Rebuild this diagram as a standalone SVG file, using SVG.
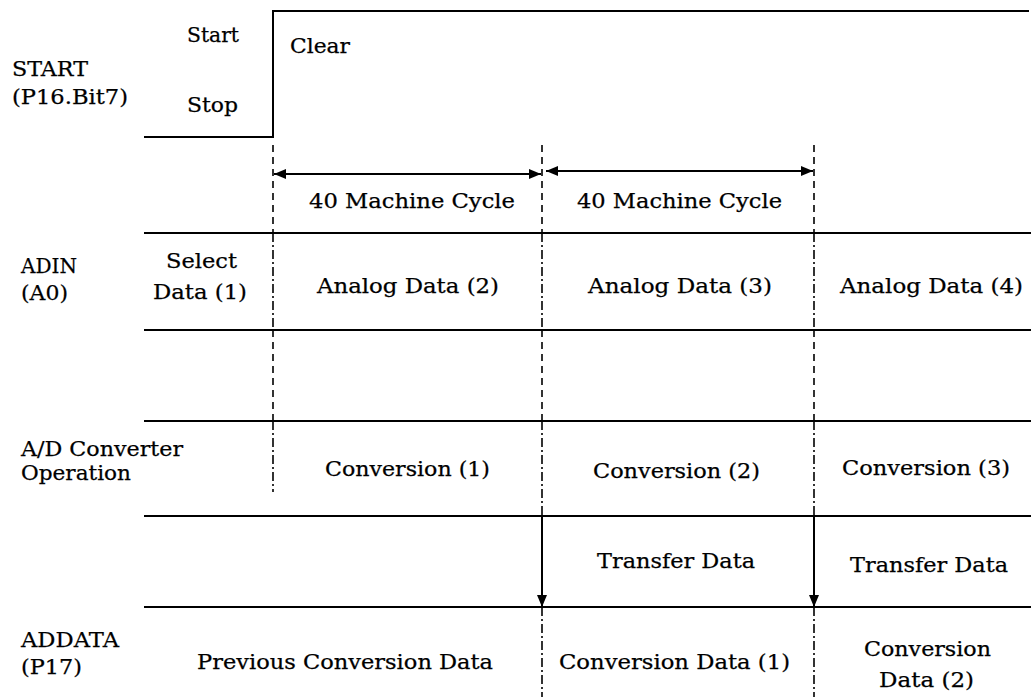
<svg xmlns="http://www.w3.org/2000/svg" width="1031" height="697" viewBox="0 0 1031 697">
<style>
text{font-family:"DejaVu Serif","Liberation Serif",serif;font-size:21px;fill:#000;stroke:#000;stroke-width:0.25}
.ln{stroke:#000;stroke-width:2;fill:none}
.dash{stroke:#000;stroke-width:1.6;stroke-dasharray:7 5;fill:none}
.dd{stroke:#000;stroke-width:1.6;stroke-dasharray:9 3 2 3;fill:none}
.arr{stroke:#000;stroke-width:2;fill:none}
</style>
<defs>
<marker id="ah" viewBox="0 0 12 10" refX="12" refY="5" markerWidth="12" markerHeight="10" markerUnits="userSpaceOnUse" orient="auto-start-reverse">
<path d="M0,0 L12,5 L0,10 Z" fill="#000"/>
</marker>
</defs>
<rect width="1031" height="697" fill="#fff"/>
<g id="grid">
<polyline class="ln" points="144,137 273,137 273,11 1029,11"/>
<line class="ln" x1="144" y1="233" x2="1031" y2="233"/>
<line class="ln" x1="144" y1="330" x2="1031" y2="330"/>
<line class="ln" x1="144" y1="421" x2="1031" y2="421"/>
<line class="ln" x1="144" y1="516" x2="1031" y2="516"/>
<line class="ln" x1="144" y1="607" x2="1031" y2="607"/>
</g>
<g id="connectors">
<line class="dash" x1="273" y1="145" x2="273" y2="233"/>
<line class="dd" x1="273" y1="233" x2="273" y2="330"/>
<line class="dash" x1="273" y1="330" x2="273" y2="421"/>
<line class="dd" x1="273" y1="421" x2="273" y2="492"/>
<line class="dash" x1="542" y1="145" x2="542" y2="233"/>
<line class="dd" x1="542" y1="233" x2="542" y2="330"/>
<line class="dash" x1="542" y1="330" x2="542" y2="421"/>
<line class="dd" x1="542" y1="421" x2="542" y2="516"/>
<line class="dd" x1="542" y1="607" x2="542" y2="697"/>
<line class="dash" x1="814" y1="145" x2="814" y2="233"/>
<line class="dd" x1="814" y1="233" x2="814" y2="330"/>
<line class="dash" x1="814" y1="330" x2="814" y2="421"/>
<line class="dd" x1="814" y1="421" x2="814" y2="516"/>
<line class="dd" x1="814" y1="607" x2="814" y2="697"/>
<line class="arr" x1="274" y1="174" x2="541" y2="174" marker-start="url(#ah)" marker-end="url(#ah)"/>
<line class="arr" x1="546" y1="171" x2="813" y2="171" marker-start="url(#ah)" marker-end="url(#ah)"/>
<line class="arr" x1="542" y1="516" x2="542" y2="607" marker-end="url(#ah)"/>
<line class="arr" x1="814" y1="516" x2="814" y2="607" marker-end="url(#ah)"/>
</g>
<g id="lbl-start"><text x="12" y="76" textLength="76" lengthAdjust="spacingAndGlyphs">START</text><text x="12" y="104" textLength="116" lengthAdjust="spacingAndGlyphs">(P16.Bit7)</text></g>
<g id="lbl-startstate"><text x="187" y="42" textLength="52" lengthAdjust="spacingAndGlyphs">Start</text></g>
<g id="lbl-stopstate"><text x="187" y="112" textLength="51" lengthAdjust="spacingAndGlyphs">Stop</text></g>
<g id="lbl-clear"><text x="290" y="53" textLength="60" lengthAdjust="spacingAndGlyphs">Clear</text></g>
<g id="cycle1"><text x="309" y="208" textLength="206" lengthAdjust="spacingAndGlyphs">40 Machine Cycle</text></g>
<g id="cycle2"><text x="577" y="208" textLength="205" lengthAdjust="spacingAndGlyphs">40 Machine Cycle</text></g>
<g id="lbl-adin"><text x="21" y="273" textLength="56" lengthAdjust="spacingAndGlyphs">ADIN</text><text x="21" y="300" textLength="47" lengthAdjust="spacingAndGlyphs">(A0)</text></g>
<g id="select"><text x="166" y="268" textLength="71" lengthAdjust="spacingAndGlyphs">Select</text><text x="153" y="299" textLength="94" lengthAdjust="spacingAndGlyphs">Data (1)</text></g>
<g id="analog2"><text x="317" y="293" textLength="182" lengthAdjust="spacingAndGlyphs">Analog Data (2)</text></g>
<g id="analog3"><text x="588" y="293" textLength="184" lengthAdjust="spacingAndGlyphs">Analog Data (3)</text></g>
<g id="analog4"><text x="840" y="293" textLength="183" lengthAdjust="spacingAndGlyphs">Analog Data (4)</text></g>
<g id="lbl-adc"><text x="21" y="456" textLength="162" lengthAdjust="spacingAndGlyphs">A/D Converter</text><text x="21" y="480" textLength="110" lengthAdjust="spacingAndGlyphs">Operation</text></g>
<g id="conv1"><text x="325" y="476" textLength="165" lengthAdjust="spacingAndGlyphs">Conversion (1)</text></g>
<g id="conv2"><text x="593" y="478" textLength="167" lengthAdjust="spacingAndGlyphs">Conversion (2)</text></g>
<g id="conv3"><text x="842" y="475" textLength="168" lengthAdjust="spacingAndGlyphs">Conversion (3)</text></g>
<g id="transfer1"><text x="597" y="568" textLength="158" lengthAdjust="spacingAndGlyphs">Transfer Data</text></g>
<g id="transfer2"><text x="850" y="572" textLength="158" lengthAdjust="spacingAndGlyphs">Transfer Data</text></g>
<g id="lbl-addata"><text x="21" y="647" textLength="98" lengthAdjust="spacingAndGlyphs">ADDATA</text><text x="21" y="674" textLength="61" lengthAdjust="spacingAndGlyphs">(P17)</text></g>
<g id="prevdata"><text x="197" y="669" textLength="296" lengthAdjust="spacingAndGlyphs">Previous Conversion Data</text></g>
<g id="convdata1"><text x="559" y="669" textLength="231" lengthAdjust="spacingAndGlyphs">Conversion Data (1)</text></g>
<g id="convdata2"><text x="864" y="656" textLength="127" lengthAdjust="spacingAndGlyphs">Conversion</text><text x="879" y="687" textLength="95" lengthAdjust="spacingAndGlyphs">Data (2)</text></g>
</svg>
